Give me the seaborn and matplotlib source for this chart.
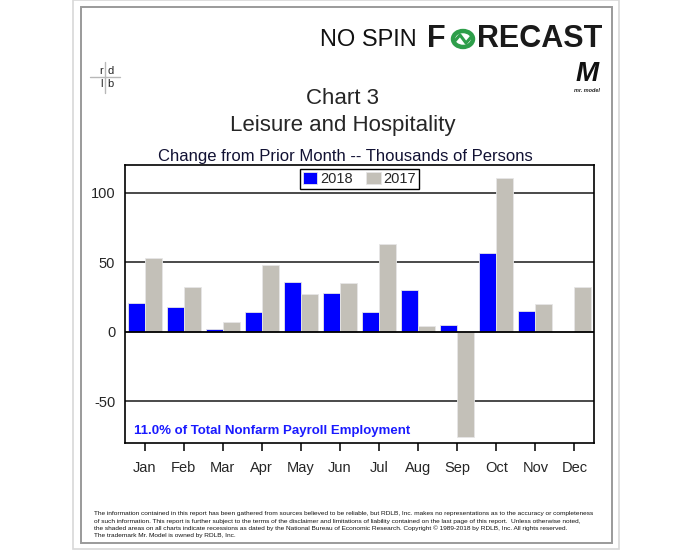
import pandas as pd
import numpy as np
import matplotlib
matplotlib.use('Agg')
import matplotlib.pyplot as plt
import seaborn as sns
from matplotlib.patches import Rectangle, Circle
from matplotlib.lines import Line2D

# Data (thousands of persons, change from prior month)
months = ['Jan', 'Feb', 'Mar', 'Apr', 'May', 'Jun', 'Jul', 'Aug', 'Sep', 'Oct', 'Nov', 'Dec']
values_2018 = [21, 18, 2, 14, 36, 28, 14, 30, 5, 57, 15, np.nan]
values_2017 = [53, 32, 7, 48, 27, 35, 63, 4, -76, 111, 20, 32]
years = ['2018', '2017']
y_ticks = [-50, 0, 50, 100]

footer_lines = [
    'The information contained in this report has been gathered from sources believed to be reliable, but RDLB, Inc. makes no representations as to the accuracy or completeness',
    'of such information. This report is further subject to the terms of the disclaimer and limitations of liability contained on the last page of this report.  Unless otherwise noted,',
    'the shaded areas on all charts indicate recessions as dated by the National Bureau of Economic Research. Copyright \u00a9 1989-2018 by RDLB, Inc. All rights reserved.',
    'The trademark Mr. Model is owned by RDLB, Inc.',
]

BLUE = '#0000FF'
GRAY = '#C3C0B8'

df = pd.DataFrame({
    'month': months * 2,
    'value': values_2018 + values_2017,
    'year': ['2018'] * 12 + ['2017'] * 12,
})

sns.set_style('white')
plt.rcParams['font.family'] = ['Liberation Sans', 'DejaVu Sans']
plt.rcParams['axes.unicode_minus'] = False

W, H = 691, 551
fig = plt.figure(figsize=(W / 100, H / 100), dpi=100)


def px(x, y):
    # pixel coords (from top-left) -> figure fraction
    return x / W, 1 - y / H


# Frames
fig.patches.append(Rectangle(px(73, 549), 546 / W, 549 / H, transform=fig.transFigure,
                             fill=False, edgecolor='#d8d8d8', lw=1.2))
fig.patches.append(Rectangle(px(80.5, 542.5), 531.5 / W, 535.5 / H, transform=fig.transFigure,
                             fill=False, edgecolor='#9a9a9a', lw=1.4))

# Axes: left 125, right 594, top 165, bottom 443 (pixels)
ax = fig.add_axes([125 / W, 1 - 443 / H, 469 / W, 278 / H])
sns.barplot(data=df, x='month', y='value', hue='year', hue_order=years,
            palette={'2018': BLUE, '2017': GRAY}, width=0.87, dodge=True, saturation=1,
            errorbar=None, edgecolor='#e6e6e6', linewidth=0.6, ax=ax)

ax.set_ylim(-80, 120)
ax.set_xlim(-0.5, 11.5)
ax.set_yticks(y_ticks)
ax.set_xlabel('')
ax.set_ylabel('')
for v in [-50, 50, 100]:
    ax.axhline(v, color='#3c3c3c', lw=1.3, zorder=0)
ax.axhline(0, color='black', lw=1.3, zorder=3)
for s in ax.spines.values():
    s.set_color('black')
    s.set_linewidth(1.2)
ax.tick_params(axis='y', length=0, labelsize=10.5, pad=7)
ax.tick_params(axis='x', direction='out', length=6, width=1.1, color='black',
               labelsize=10.5, pad=7, bottom=True)

leg = ax.legend(loc='upper center', bbox_to_anchor=(0.5, 0.985), ncol=2, fontsize=10.5,
                frameon=True, fancybox=False, edgecolor='black', framealpha=1,
                borderpad=0.2, handlelength=1.0, handleheight=0.9, handletextpad=0.2,
                columnspacing=0.9, borderaxespad=0)
leg.get_frame().set_linewidth(1.0)

fig.text(*px(134, 431), '11.0% of Total Nonfarm Payroll Employment',
         color='#1a1aff', fontsize=9.5, fontweight='bold', va='center', ha='left')

# Titles
fig.text(*px(343, 99), 'Chart 3', ha='center', va='center', fontsize=16)
fig.text(*px(343, 126), 'Leisure and Hospitality', ha='center', va='center', fontsize=16)
fig.text(*px(345, 157), 'Change from Prior Month -- Thousands of Persons', ha='center',
         va='center', fontsize=12, color='#111133')

# NO SPIN FORECAST logo
fig.text(*px(320, 40), 'NO SPIN', ha='left', va='center', fontsize=17, color='#111111')
fig.text(*px(427, 39), 'F', ha='left', va='center', fontsize=22, fontweight='bold', color='#1a1a1a')
fig.text(*px(602, 39), 'RECAST', ha='right', va='center', fontsize=22, fontweight='bold', color='#1a1a1a')
cx, cy = px(463, 39)
fig.patches.append(Circle((cx, cy), 10 / W, transform=fig.transFigure, fill=False,
                          edgecolor='#2e9e4a', lw=3.2))
fig.lines.append(Line2D([454 / W, 460 / W, 466 / W, 472 / W],
                        [1 - 42 / H, 1 - 35 / H, 1 - 43 / H, 1 - 36 / H],
                        transform=fig.transFigure, color='#2e9e4a', lw=2.2))

# rdlb mark
fig.lines.append(Line2D([90 / W, 120 / W], [1 - 77 / H, 1 - 77 / H], transform=fig.transFigure,
                        color='#b8b8b8', lw=1))
fig.lines.append(Line2D([105 / W, 105 / W], [1 - 62 / H, 1 - 93 / H], transform=fig.transFigure,
                        color='#b8b8b8', lw=1))
fig.text(*px(103, 71), 'r', ha='right', va='center', fontsize=8)
fig.text(*px(107, 71), 'd', ha='left', va='center', fontsize=8)
fig.text(*px(103, 84), 'l', ha='right', va='center', fontsize=8)
fig.text(*px(107, 84), 'b', ha='left', va='center', fontsize=8)

# Mr. Model mark
fig.text(*px(587, 74), 'M', ha='center', va='center', fontsize=20, fontweight='bold',
         fontstyle='italic', color='#111111')
fig.text(*px(587, 91), 'mr. model', ha='center', va='center', fontsize=4,
         fontstyle='italic', fontweight='bold', color='#222222')

# Footer
for i, line in enumerate(footer_lines):
    fig.text(*px(94, 514 + i * 7.3), line, ha='left', va='center', fontsize=4.68,
             color='#111111')

fig.savefig('out.png', dpi=100)
